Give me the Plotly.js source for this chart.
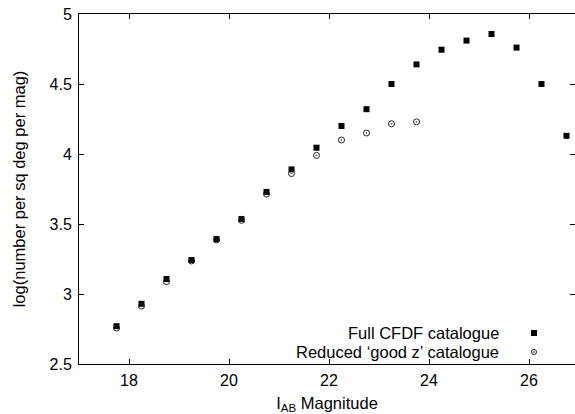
<!DOCTYPE html>
<html>
<head>
<meta charset="utf-8">
<script src="https://cdn.plot.ly/plotly-3.0.1.min.js"></script>
<style>html,body{margin:0;padding:0;background:#fff;}#chart{width:575px;height:414px;}</style>
</head>
<body>
<div id="chart"></div>
<script>
var magFull = [17.75, 18.25, 18.75, 19.25, 19.75, 20.25, 20.75, 21.25, 21.75, 22.25, 22.75, 23.25, 23.75, 24.25, 24.75, 25.25, 25.75, 26.25, 26.75];
var logNFull = [2.77, 2.93, 3.107, 3.243, 3.393, 3.536, 3.729, 3.89, 4.045, 4.20, 4.32, 4.50, 4.64, 4.745, 4.81, 4.857, 4.76, 4.50, 4.13];
var magGood = [17.75, 18.25, 18.75, 19.25, 19.75, 20.25, 20.75, 21.25, 21.75, 22.25, 22.75, 23.25, 23.75];
var logNGood = [2.757, 2.914, 3.088, 3.236, 3.386, 3.526, 3.714, 3.86, 3.99, 4.10, 4.15, 4.216, 4.23];
var legendLabels = ["Full CFDF catalogue", "Reduced \u2018good z\u2019 catalogue"];
var xTicks = [18, 20, 22, 24, 26];
var yTicks = [2.5, 3, 3.5, 4, 4.5, 5];

var fam = "Liberation Sans, Arial, sans-serif";
var tickFont = {family: fam, size: 16, color: "#000"};
var textFont = {family: fam, size: 16.5, color: "#000"};

var traces = [
  {x: magFull, y: logNFull, mode: "markers", type: "scatter", name: legendLabels[0],
   marker: {symbol: "square", size: 6, color: "#000"}},
  {x: magGood, y: logNGood, mode: "markers", type: "scatter", name: legendLabels[1],
   marker: {symbol: "circle-open-dot", size: 6, color: "#222", line: {width: 1}}}
];

var axBase = {showgrid: false, zeroline: false, showline: true, linecolor: "#000", linewidth: 1,
  mirror: "allticks", ticks: "inside", ticklen: 5, tickcolor: "#000", tickwidth: 1, tickfont: tickFont};

var L = 79, T = 14, PW = 496, PH = 350;
function px(x) { return (x - L) / PW; }
function py(y) { return (T + PH - y) / PH; }

var layout = {
  width: 575, height: 414,
  margin: {l: L, r: 0, t: T, b: 414 - T - PH},
  paper_bgcolor: "#fff", plot_bgcolor: "#fff",
  showlegend: false,
  font: textFont,
  xaxis: Object.assign({}, axBase, {range: [17, 26.92], tickvals: xTicks, ticktext: xTicks.map(String),
    ticklabelstandoff: 2,
    title: {text: "I<sub>AB</sub> Magnitude", font: textFont, standoff: 9}}),
  yaxis: Object.assign({}, axBase, {range: [2.5, 5], tickvals: yTicks, ticktext: yTicks.map(String),
    ticklabelstandoff: 3,
    title: {text: "log(number per sq deg per mag)", font: textFont, standoff: 19}}),
  annotations: [
    {xref: "paper", yref: "paper", x: px(501), y: py(333), xanchor: "right", yanchor: "middle",
     text: legendLabels[0], showarrow: false, font: textFont},
    {xref: "paper", yref: "paper", x: px(501), y: py(352), xanchor: "right", yanchor: "middle",
     text: legendLabels[1], showarrow: false, font: textFont}
  ],
  shapes: [
    {type: "rect", xref: "paper", yref: "paper", x0: px(531), x1: px(537),
     y0: py(336), y1: py(330), fillcolor: "#000", line: {width: 0}},
    {type: "circle", xref: "paper", yref: "paper", x0: px(531.5), x1: px(536.5),
     y0: py(354.5), y1: py(349.5), line: {color: "#222", width: 1}},
    {type: "circle", xref: "paper", yref: "paper", x0: px(533.5), x1: px(534.5),
     y0: py(352.5), y1: py(351.5), fillcolor: "#222", line: {color: "#222", width: 0.5}}
  ]
};

Plotly.newPlot("chart", traces, layout, {displayModeBar: false, staticPlot: true});
</script>
</body>
</html>
